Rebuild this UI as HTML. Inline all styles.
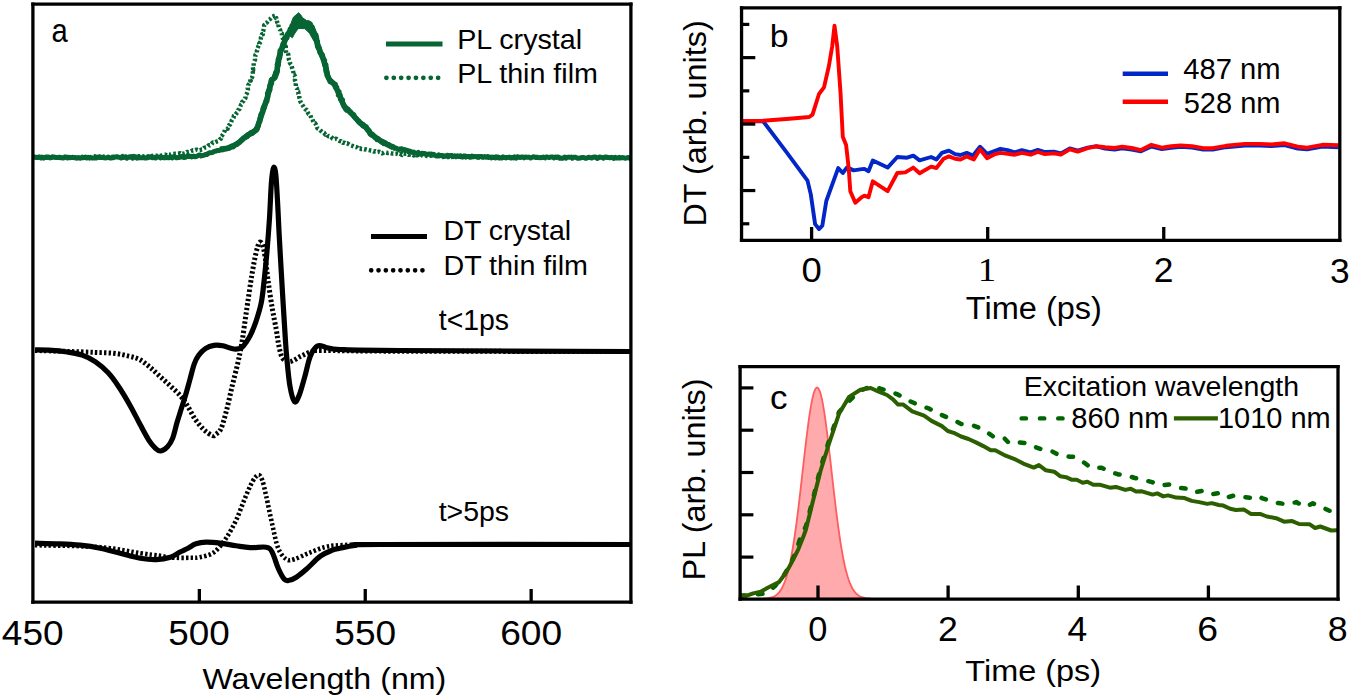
<!DOCTYPE html>
<html><head><meta charset="utf-8"><title>Figure</title>
<style>html,body{margin:0;padding:0;background:#fff;}svg{display:block;}text{font-family:"Liberation Sans",sans-serif;}</style>
</head><body>
<svg width="1350" height="698" viewBox="0 0 1350 698">
<rect width="1350" height="698" fill="#fff"/>
<path d="M32.8,157.4 L34.5,157.4 L36.3,156.7 L37.5,157.7 L39.2,156.9 L41.4,157.2 L42.9,157.2 L44.3,156.7 L45.9,157.7 L47.4,157.5 L49.1,156.6 L50.8,157.3 L52.1,156.5 L54.1,157.1 L55.6,157.7 L57.2,157.7 L58.6,157.5 L60.2,157.7 L62.1,156.5 L63.2,156.7 L65.4,157.0 L66.7,156.8 L68.3,156.9 L69.8,157.2 L71.5,157.6 L73.2,157.6 L74.9,157.7 L76.4,156.5 L78.1,157.6 L79.8,157.1 L81.2,156.6 L82.9,157.1 L84.1,156.3 L86.1,157.6 L87.2,157.3 L89.0,156.4 L90.6,157.3 L92.6,156.3 L94.0,156.2 L95.7,156.6 L97.4,157.5 L98.7,157.5 L100.2,156.2 L102.0,156.2 L103.3,156.7 L105.2,156.3 L106.4,157.3 L108.2,157.4 L110.2,156.6 L111.5,156.8 L113.2,156.9 L114.8,156.9 L116.7,156.7 L117.9,157.0 L119.4,156.4 L121.5,156.7 L122.8,156.0 L124.3,156.8 L125.6,156.8 L127.7,156.0 L129.3,156.6 L130.9,156.4 L132.5,157.0 L133.6,156.0 L135.7,157.3 L137.0,156.5 L138.8,156.3 L140.3,156.3 L141.9,156.7 L143.4,156.4 L145.4,155.9 L146.8,156.9 L148.3,156.1 L150.2,156.1 L151.4,156.2 L153.5,155.6 L154.9,155.8 L156.9,155.8 L158.6,155.2 L159.9,155.7 L161.9,155.3 L163.1,154.7 L165.0,154.6 L166.9,155.4 L168.1,154.4 L170.2,154.8 L171.9,154.2 L173.1,153.9 L175.2,153.8 L176.6,153.8 L178.3,153.6 L180.3,153.1 L181.3,153.9 L183.6,153.7 L184.9,153.3 L186.9,151.9 L188.4,152.5 L189.9,151.7 L191.3,151.1 L192.9,150.3 L194.8,150.3 L196.6,149.6 L198.3,150.3 L200.0,150.3 L201.6,149.4 L202.5,149.4 L204.1,147.8 L205.9,147.3 L207.1,147.1 L208.7,145.3 L209.9,145.3 L211.5,144.3 L212.8,142.5 L214.4,142.6 L216.0,141.8 L218.5,141.0 L220.3,138.9 L221.0,138.8 L221.3,136.3 L222.4,135.2 L223.4,133.6 L224.6,131.2 L224.8,129.9 L225.9,128.5 L227.7,128.7 L227.9,126.8 L229.1,125.1 L230.2,124.5 L231.2,122.4 L231.6,120.8 L232.3,119.7 L233.6,117.8 L233.8,115.8 L235.1,115.2 L236.6,113.1 L237.6,112.1 L238.3,110.0 L239.4,109.1 L240.1,107.4 L241.0,104.7 L241.9,103.9 L242.2,101.8 L243.4,101.3 L244.8,98.6 L245.5,98.0 L245.5,95.7 L245.8,95.0 L246.9,93.5 L247.6,91.4 L248.0,89.6 L247.7,88.0 L248.1,85.3 L249.5,83.4 L249.2,81.9 L250.7,80.6 L250.2,80.6 L250.8,79.1 L252.0,77.5 L252.8,75.4 L252.8,72.5 L252.9,72.0 L253.0,69.5 L253.2,69.8 L252.7,66.7 L253.7,66.1 L253.7,62.9 L254.0,62.2 L255.0,59.9 L254.9,58.2 L255.3,56.5 L255.3,55.0 L256.8,53.1 L256.9,50.7 L257.3,50.4 L257.7,48.1 L258.2,46.7 L259.4,43.9 L259.2,43.6 L260.9,41.3 L260.8,40.2 L260.9,37.5 L261.4,36.6 L262.0,34.2 L262.9,34.3 L262.9,32.0 L263.4,30.6 L264.1,27.5 L264.1,25.3 L265.2,24.7 L265.7,23.2 L266.7,22.7 L267.4,21.8 L268.9,19.7 L270.1,19.1 L271.6,17.3 L272.4,16.5 L275.7,15.3 L276.1,18.3 L276.4,18.3 L276.7,21.1 L277.8,23.4 L278.6,23.4 L278.4,25.2 L278.9,28.0 L280.3,30.2 L280.2,31.8 L280.8,32.5 L281.9,33.4 L281.7,36.9 L282.5,37.5 L283.4,40.0 L283.3,40.9 L284.3,43.1 L284.5,45.1 L285.8,46.5 L285.8,47.7 L285.9,50.8 L286.3,53.1 L287.8,52.9 L288.5,55.3 L288.8,57.9 L288.8,59.4 L289.8,61.5 L289.9,63.1 L291.3,64.6 L291.4,65.0 L291.9,67.2 L292.6,69.7 L292.9,70.3 L293.5,73.1 L293.4,75.4 L294.5,75.3 L295.3,77.0 L294.9,80.1 L295.5,81.5 L295.9,82.9 L295.8,84.0 L295.8,87.0 L296.9,88.3 L297.2,89.6 L297.1,91.2 L298.4,91.9 L298.4,93.9 L299.3,95.7 L299.3,97.3 L300.0,99.7 L300.3,101.4 L300.5,101.6 L301.0,102.8 L302.8,105.5 L303.0,105.7 L304.3,108.2 L305.6,109.6 L306.4,109.6 L307.1,111.0 L308.2,113.4 L308.8,114.2 L310.4,115.3 L311.4,118.6 L312.5,119.1 L313.1,121.1 L314.1,123.2 L315.1,123.2 L316.2,124.9 L316.9,126.7 L317.3,128.2 L318.9,129.0 L320.0,129.9 L321.0,131.0 L322.2,132.0 L324.1,132.8 L325.3,134.7 L326.9,134.3 L328.2,136.1 L329.1,136.3 L330.9,136.5 L332.8,138.7 L334.2,139.3 L336.2,138.7 L337.9,140.2 L339.6,141.1 L341.1,141.1 L342.8,142.8 L344.5,142.7 L346.0,143.5 L347.1,143.3 L348.6,144.1 L350.2,145.2 L352.2,145.8 L353.6,146.5 L355.1,146.8 L357.0,147.3 L358.1,148.6 L360.1,148.3 L361.4,149.1 L363.2,149.0 L364.3,149.3 L366.5,149.5 L367.8,149.9 L369.2,150.2 L370.9,150.5 L372.2,150.7 L373.9,151.6 L375.4,151.2 L377.3,152.1 L379.2,151.7 L380.7,152.4 L382.2,153.4 L384.1,152.3 L386.0,152.6 L387.9,153.0 L389.2,152.8 L391.4,153.3 L393.2,153.7 L395.1,153.6 L396.3,153.6 L398.5,154.3 L399.9,153.6 L401.9,154.9 L403.6,153.6 L405.0,153.8 L406.8,153.8 L408.5,154.8 L410.7,154.3 L412.4,154.8 L413.9,155.5 L415.7,154.3 L416.9,155.3 L419.0,154.6 L420.1,155.8 L421.7,155.2 L423.5,155.8 L425.5,155.1 L427.0,156.0 L428.7,155.9 L430.4,155.7 L431.7,155.6 L433.6,156.1 L434.9,155.7 L436.9,156.4 L438.5,156.2 L440.0,156.0 L441.8,155.8 L443.2,156.9 L445.0,156.0 L446.3,157.1 L448.2,157.1 L450.0,156.6 L451.6,157.0 L452.9,156.5 L454.3,156.6 L456.5,156.2 L457.9,156.2 L459.2,157.0 L460.9,156.1 L462.5,157.0 L464.4,156.1 L465.8,157.5 L467.4,157.0 L469.1,157.3 L470.9,157.3 L472.5,156.5 L473.8,156.4 L475.9,156.4 L477.0,157.7 L478.7,157.6 L480.3,157.0 L482.0,157.5 L483.9,157.3 L485.6,157.6 L486.9,157.3 L488.6,156.6 L490.5,157.3 L492.1,156.8 L493.5,157.2 L495.3,156.6 L496.6,157.2 L498.1,157.4 L500.2,157.2" fill="none" stroke="#066532" stroke-width="4.4" stroke-dasharray="2.6 2.1" stroke-linejoin="round"/>
<path d="M32.9,157.0 L34.4,156.9 L35.7,157.3 L36.6,157.5 L37.9,157.4 L39.3,156.9 L40.9,158.0 L42.0,157.1 L43.6,158.1 L44.9,157.4 L46.5,156.9 L47.8,157.2 L48.6,157.0 L50.0,158.0 L51.2,157.6 L52.9,157.3 L54.1,156.9 L55.1,157.1 L56.9,157.4 L57.9,157.6 L59.3,157.2 L60.9,157.8 L61.8,157.6 L63.3,158.1 L64.8,157.2 L66.3,157.0 L67.2,157.9 L68.3,157.5 L69.6,157.8 L71.4,157.6 L72.8,157.3 L74.0,157.7 L75.2,157.5 L76.7,158.2 L77.8,157.8 L78.8,157.8 L80.6,158.2 L82.0,157.3 L83.0,157.8 L84.1,157.5 L85.5,157.0 L86.7,157.9 L88.1,157.2 L89.6,158.1 L90.7,157.5 L92.4,158.1 L93.9,158.1 L94.8,157.5 L96.2,158.1 L97.9,157.1 L98.7,157.2 L100.0,157.6 L101.6,157.2 L102.5,157.5 L104.1,157.7 L105.8,157.9 L106.8,157.7 L108.3,157.0 L109.7,158.0 L111.0,158.0 L112.0,157.4 L113.1,157.8 L114.4,157.0 L115.8,157.1 L117.3,157.0 L118.3,157.1 L119.7,157.4 L121.0,158.1 L122.7,157.1 L123.7,157.4 L125.1,157.0 L126.8,158.2 L127.8,157.5 L128.8,157.0 L130.3,157.2 L132.0,157.0 L132.7,158.1 L134.4,157.0 L135.7,156.8 L137.0,158.2 L138.5,157.8 L139.4,157.3 L140.6,157.8 L142.2,157.8 L143.4,157.1 L145.0,158.1 L146.3,157.9 L147.6,157.8 L148.5,157.4 L149.9,156.7 L151.0,157.1 L152.4,157.7 L154.2,157.3 L155.5,158.0 L156.8,157.2 L157.6,157.0 L158.9,156.9 L160.5,157.9 L162.0,157.3 L163.2,157.7 L164.1,157.5 L165.9,157.7 L167.1,157.3 L168.0,157.7 L169.4,157.7 L171.2,157.1 L172.1,157.9 L173.6,156.8 L174.5,156.7 L176.4,157.7 L177.1,157.7 L179.0,157.4 L179.9,157.3 L181.1,156.4 L183.0,157.2 L184.1,157.5 L185.3,157.3 L187.0,156.3 L187.9,156.3 L189.2,156.6 L190.6,156.3 L191.9,156.9 L193.4,156.1 L194.9,156.7 L196.1,156.6 L197.5,155.9 L198.9,155.1 L200.2,155.2 L201.2,156.0 L202.7,155.5 L204.4,155.1 L205.4,154.6 L206.9,154.5 L207.9,153.7 L209.3,152.8 L211.0,152.7 L212.2,152.6 L213.7,151.7 L214.8,151.3 L216.1,151.1 L217.3,150.4 L218.7,150.6 L220.2,150.0 L221.7,148.9 L222.6,149.8 L224.2,148.4 L224.9,148.7 L226.1,148.3 L227.4,148.5 L229.3,148.3 L230.0,147.5 L231.8,146.0 L233.2,146.9 L234.0,146.1 L235.4,144.6 L237.2,144.4 L237.8,142.9 L239.4,142.0 L240.2,141.0 L241.7,139.5 L242.7,139.3 L243.2,138.1 L244.9,137.5 L245.4,137.5 L247.4,136.7 L248.0,134.5 L249.2,134.7 L250.8,132.6 L252.2,133.5 L253.8,131.3 L254.2,131.9 L255.8,130.6 L256.3,128.4 L257.4,127.9 L257.2,127.8 L258.3,126.2 L258.0,125.0 L258.4,123.8 L259.3,121.2 L259.9,121.4 L259.9,118.1 L260.7,117.1 L260.6,115.6 L260.9,114.4 L261.6,113.4 L262.7,112.0 L262.8,110.4 L263.0,108.6 L263.3,107.3 L264.4,107.5 L264.0,106.0 L265.6,103.6 L265.8,103.3 L265.8,103.3 L266.1,101.0 L267.0,101.2 L266.9,99.4 L267.8,97.5 L267.6,95.3 L267.4,93.4 L267.7,94.0 L268.3,90.9 L268.4,91.8 L270.0,89.9 L269.4,87.3 L269.7,86.7 L269.8,85.3 L270.3,85.7 L271.7,83.1 L270.9,83.1 L271.3,79.8 L271.9,79.1 L273.7,78.6 L274.3,77.7 L274.5,75.7 L275.1,74.8 L275.6,72.3 L276.5,71.7 L277.1,71.4 L277.5,70.5 L277.6,69.8 L277.3,66.7 L278.4,64.9 L278.1,65.1 L277.2,64.4 L278.7,62.4 L278.8,61.6 L278.2,59.2 L279.1,58.8 L279.9,57.3 L279.9,56.1 L280.4,54.0 L280.0,50.5 L280.3,50.3 L280.8,50.5 L282.0,48.6 L282.6,47.4 L282.9,44.0 L283.9,45.1 L283.9,43.1 L284.7,40.3 L285.4,39.5 L284.9,38.2 L286.5,36.7 L287.1,37.9 L287.3,34.6 L288.2,34.3 L289.5,32.7 L290.2,29.6 L290.1,29.0 L291.7,28.0 L292.1,25.8 L292.0,25.5 L293.7,25.6 L294.7,23.3 L295.5,22.9 L296.5,20.8 L298.2,20.0 L299.4,21.4 L299.2,20.7 L301.8,23.2 L302.5,21.8 L303.5,24.6 L304.8,24.1 L306.0,24.6 L308.6,24.1 L309.7,26.0 L311.1,27.4 L311.4,28.8 L312.3,27.2 L312.1,30.0 L313.4,30.6 L313.5,32.0 L314.3,34.8 L314.4,35.8 L316.1,35.1 L316.5,38.3 L316.8,38.2 L316.3,39.8 L317.6,41.7 L316.9,42.5 L317.1,42.6 L317.4,46.5 L318.2,48.2 L318.6,47.5 L319.5,48.6 L319.8,52.5 L321.1,53.3 L321.3,55.0 L322.3,55.2 L322.5,54.9 L323.0,57.5 L323.6,59.5 L323.3,58.8 L324.7,60.4 L324.4,62.4 L324.5,64.9 L326.0,64.7 L325.8,66.1 L326.1,67.7 L325.7,68.3 L326.0,72.0 L326.7,71.1 L327.7,74.9 L327.2,73.5 L327.0,74.7 L328.1,76.2 L328.7,78.2 L330.1,81.7 L331.4,81.1 L331.9,82.3 L332.8,82.6 L333.3,83.3 L335.5,84.2 L335.5,87.2 L336.8,87.2 L336.6,88.7 L337.4,90.5 L338.8,93.0 L339.1,91.6 L338.3,95.0 L340.2,95.4 L340.2,95.1 L340.4,99.3 L341.7,100.4 L342.5,99.8 L341.7,100.9 L342.9,103.8 L344.1,105.3 L344.2,106.8 L344.9,107.1 L345.3,108.8 L346.6,110.2 L348.2,109.4 L348.5,110.3 L350.2,112.5 L350.5,111.8 L352.0,114.2 L352.7,114.3 L353.9,114.7 L354.4,116.9 L356.1,118.4 L356.9,118.9 L356.9,119.4 L358.7,121.5 L358.8,120.8 L360.2,123.3 L361.2,123.3 L362.7,125.8 L363.3,124.6 L364.6,126.4 L366.2,126.8 L367.2,129.2 L367.7,129.1 L369.0,130.5 L369.7,131.5 L369.9,133.8 L371.2,135.1 L372.6,134.4 L373.5,135.8 L375.1,137.8 L375.8,137.7 L377.0,139.7 L378.1,138.6 L379.1,139.9 L381.1,141.5 L382.0,142.4 L383.3,141.8 L383.8,143.6 L385.4,142.7 L386.7,144.0 L387.7,144.5 L388.9,144.6 L390.3,145.9 L392.2,146.2 L393.5,147.0 L394.4,148.4 L396.2,148.1 L396.9,148.5 L398.6,149.6 L399.8,149.0 L401.8,148.8 L402.8,150.4 L404.5,149.5 L405.3,149.9 L407.4,150.5 L408.6,151.8 L409.7,151.1 L411.6,152.0 L412.4,152.4 L413.8,152.1 L414.9,153.1 L417.0,153.2 L418.3,152.4 L419.1,153.3 L421.0,154.1 L421.9,153.2 L423.2,153.7 L424.9,153.4 L426.1,154.4 L427.4,154.6 L428.6,154.0 L429.7,154.2 L431.3,154.0 L432.2,155.1 L433.6,154.2 L434.7,155.1 L436.2,155.9 L438.0,156.0 L438.8,154.9 L440.0,155.6 L441.8,155.6 L442.7,155.6 L444.3,156.0 L445.7,156.3 L447.0,155.3 L448.4,155.6 L449.5,155.7 L450.9,155.5 L451.9,155.6 L453.1,156.6 L454.7,155.8 L455.9,156.8 L457.3,155.8 L458.8,156.4 L460.3,155.7 L461.2,156.8 L462.8,156.9 L463.5,156.1 L464.9,156.0 L466.8,156.6 L468.1,156.4 L469.3,156.5 L470.2,157.0 L472.0,156.1 L473.1,156.9 L474.1,156.6 L475.4,156.4 L476.7,157.0 L478.3,156.5 L479.2,156.7 L481.0,156.5 L482.0,156.6 L483.7,157.1 L484.5,156.6 L486.0,157.2 L487.5,156.6 L488.5,157.5 L489.9,157.0 L491.2,157.9 L492.5,157.4 L493.8,157.2 L495.5,158.0 L496.4,156.9 L498.0,156.9 L498.8,157.9 L500.4,157.8 L501.7,157.9 L503.0,156.9 L504.0,157.4 L505.8,157.9 L506.7,157.5 L508.2,157.4 L509.3,157.1 L510.9,158.0 L511.9,157.4 L513.7,158.0 L514.6,156.9 L516.4,158.1 L517.4,156.8 L519.0,157.2 L520.3,157.6 L521.6,156.9 L522.8,157.0 L523.9,157.9 L525.5,157.0 L526.4,157.3 L527.9,157.3 L528.9,157.1 L530.6,158.0 L531.5,157.5 L533.3,156.8 L534.6,156.9 L535.8,157.5 L537.1,157.2 L538.2,157.6 L539.6,157.7 L540.9,157.4 L541.9,157.7 L543.5,157.1 L545.0,157.9 L546.1,157.1 L547.4,157.0 L548.5,157.4 L549.8,157.4 L551.4,156.9 L552.8,156.9 L554.1,157.9 L555.3,156.9 L556.6,157.4 L558.2,157.0 L559.4,158.2 L560.7,158.0 L561.6,158.2 L563.1,158.2 L564.7,157.1 L565.9,158.2 L566.7,157.4 L568.5,157.1 L569.9,157.3 L571.2,157.1 L572.3,158.2 L573.4,157.3 L574.9,157.3 L575.8,157.2 L577.2,158.2 L578.9,158.2 L579.9,158.0 L581.1,157.7 L582.8,157.4 L584.3,157.7 L585.4,158.2 L586.3,158.3 L588.0,157.5 L589.4,157.3 L590.9,157.8 L591.7,158.0 L593.1,157.2 L594.6,157.0 L596.0,157.3 L597.2,158.4 L598.4,157.9 L599.5,157.0 L600.6,157.2 L602.4,157.6 L603.6,158.3 L604.6,157.3 L606.3,157.0 L607.2,157.5 L608.5,157.5 L609.9,157.8 L611.5,157.3 L612.8,157.7 L613.8,158.4 L615.2,157.3 L616.4,157.9 L618.2,158.1 L619.2,157.4 L620.2,158.0 L621.9,157.6 L623.3,157.7 L624.8,158.1 L625.6,158.3 L626.8,157.8 L628.3,157.4 L629.4,158.2 L630.7,157.9" fill="none" stroke="#066532" stroke-width="5" stroke-linejoin="round"/>
<path d="M220.0,149.4 L226.5,148.7 L232.9,146.1 L239.4,142.3 L245.8,136.5 L252.3,132.6 L256.8,129.4 L259.4,121.6 L261.9,113.9 L264.5,106.1 L267.1,98.4 L269.7,88.1 L271.6,80.3 L274.8,77.7 L276.8,72.6 L278.1,62.0 L280.4,52.0 L283.9,43.0 L287.3,35.0 L290.0,31.0 L293.4,25.0 L298.6,20.0 L302.6,22.5 L306.6,24.5 L311.8,27.5 L315.2,35.0 L317.5,44.0 L320.0,51.0 L323.2,59.0 L326.0,68.0 L327.5,76.0 L330.0,80.5 L334.0,84.0 L337.0,89.5 L340.6,97.9 L344.0,106.0 L352.0,114.0 L359.0,122.0 L366.0,127.5 L370.2,133.2 L377.3,138.8 L385.2,143.5 L393.1,147.5" fill="none" stroke="#066532" stroke-width="5.6" stroke-linejoin="round"/>
<path d="M290.0,29.0 L291.5,22.0 L293.4,17.2 L296.0,15.0 L298.6,12.8 L300.5,14.5 L302.6,17.8 L306.6,20.6 L309.0,20.8 L311.8,22.3 L315.2,29.8 L314.1,41.3 L311.0,36.0 L309.5,33.2 L304.9,28.7 L300.0,28.5 L298.0,28.7 L295.0,33.0 L292.3,37.8 L290.0,36.0 Z" fill="#066532" stroke="#066532" stroke-width="1" stroke-linejoin="round"/>
<path d="M35.00,350.50 C40.38,350.65 57.27,351.08 67.30,351.40 C77.33,351.72 87.45,352.08 95.20,352.40 C102.95,352.72 108.22,352.68 113.80,353.30 C119.38,353.92 124.33,355.02 128.70,356.10 C133.07,357.18 136.40,357.90 140.00,359.80 C143.60,361.70 146.87,364.63 150.30,367.50 C153.73,370.37 157.15,373.83 160.60,377.00 C164.05,380.17 167.55,383.20 171.00,386.50 C174.45,389.80 178.43,393.37 181.30,396.80 C184.17,400.23 185.90,403.38 188.20,407.10 C190.50,410.82 192.52,415.37 195.10,419.10 C197.68,422.83 200.83,426.77 203.70,429.50 C206.57,432.23 210.25,434.75 212.30,435.50 C214.35,436.25 214.55,435.13 216.00,434.00 C217.45,432.87 219.23,432.68 221.00,428.70 C222.77,424.72 224.73,417.23 226.60,410.10 C228.47,402.97 230.35,393.67 232.20,385.90 C234.05,378.13 236.15,370.32 237.70,363.50 C239.25,356.68 240.37,351.42 241.50,345.00 C242.63,338.58 243.47,332.07 244.50,325.00 C245.53,317.93 246.48,310.88 247.70,302.60 C248.92,294.32 250.43,283.48 251.80,275.30 C253.17,267.12 254.63,258.95 255.90,253.50 C257.17,248.05 258.27,243.95 259.40,242.60 C260.53,241.25 261.70,242.67 262.70,245.40 C263.70,248.13 264.50,253.10 265.40,259.00 C266.30,264.90 266.97,272.63 268.10,280.80 C269.23,288.97 270.83,299.83 272.20,308.00 C273.57,316.17 275.22,323.65 276.30,329.80 C277.38,335.95 277.68,340.22 278.70,344.90 C279.72,349.58 280.53,355.10 282.40,357.90 C284.27,360.70 286.78,362.00 289.90,361.70 C293.02,361.40 297.38,357.82 301.10,356.10 C304.82,354.38 308.78,352.33 312.20,351.40 C315.62,350.47 306.97,350.53 321.60,350.50 C336.23,350.47 348.43,351.03 400.00,351.20 C451.57,351.37 592.50,351.45 631.00,351.50" fill="none" stroke="#000" stroke-width="5" stroke-dasharray="2.4 2.2"/>
<path d="M35.00,349.80 C37.27,349.85 43.22,349.73 48.60,350.10 C53.98,350.47 61.70,351.17 67.30,352.00 C72.90,352.83 77.55,353.48 82.20,355.10 C86.85,356.72 90.87,358.75 95.20,361.70 C99.53,364.65 104.17,368.47 108.20,372.80 C112.23,377.13 115.67,382.10 119.40,387.70 C123.13,393.30 127.17,400.30 130.60,406.40 C134.03,412.50 137.00,418.73 140.00,424.30 C143.00,429.87 146.02,435.78 148.60,439.80 C151.18,443.82 153.50,446.53 155.50,448.40 C157.50,450.27 158.60,451.28 160.60,451.00 C162.60,450.72 165.48,448.85 167.50,446.70 C169.52,444.55 171.12,442.12 172.70,438.10 C174.28,434.08 175.57,427.48 177.00,422.60 C178.43,417.72 179.87,413.38 181.30,408.80 C182.73,404.22 184.17,399.97 185.60,395.10 C187.03,390.23 188.47,384.77 189.90,379.60 C191.33,374.43 192.77,368.12 194.20,364.10 C195.63,360.08 196.63,358.08 198.50,355.50 C200.37,352.92 202.82,350.28 205.40,348.60 C207.98,346.92 211.10,345.87 214.00,345.40 C216.90,344.93 219.47,345.20 222.80,345.80 C226.13,346.40 230.88,348.68 234.00,349.00 C237.12,349.32 239.45,348.87 241.50,347.70 C243.55,346.53 244.80,344.12 246.30,342.00 C247.80,339.88 248.90,338.38 250.50,335.00 C252.10,331.62 254.10,327.10 255.90,321.70 C257.70,316.30 259.93,309.42 261.30,302.60 C262.67,295.78 263.18,288.98 264.10,280.80 C265.02,272.62 265.90,263.95 266.80,253.50 C267.70,243.05 268.73,229.90 269.50,218.10 C270.27,206.30 270.72,191.10 271.40,182.70 C272.08,174.30 272.87,169.07 273.60,167.70 C274.33,166.33 275.12,168.37 275.80,174.50 C276.48,180.63 277.17,194.97 277.70,204.50 C278.23,214.03 278.45,221.25 279.00,231.70 C279.55,242.15 280.32,255.38 281.00,267.20 C281.68,279.02 282.38,290.80 283.10,302.60 C283.82,314.40 284.68,328.77 285.30,338.00 C285.92,347.23 286.03,350.02 286.80,358.00 C287.57,365.98 288.62,378.62 289.90,385.90 C291.18,393.18 292.95,400.15 294.50,401.70 C296.05,403.25 297.48,399.38 299.20,395.20 C300.92,391.02 302.93,383.12 304.80,376.60 C306.67,370.08 308.23,361.23 310.40,356.10 C312.57,350.97 315.02,347.20 317.80,345.80 C320.58,344.40 323.40,347.08 327.10,347.70 C330.80,348.32 327.85,349.03 340.00,349.50 C352.15,349.97 351.50,350.17 400.00,350.50 C448.50,350.83 592.50,351.33 631.00,351.50" fill="none" stroke="#000" stroke-width="5.2" stroke-linejoin="round"/>
<path d="M35.00,545.20 C42.52,545.37 67.57,545.70 80.10,546.20 C92.63,546.70 100.17,547.03 110.20,548.20 C120.23,549.37 131.95,551.93 140.30,553.20 C148.65,554.47 155.28,555.07 160.30,555.80 C165.32,556.53 165.45,557.27 170.40,557.60 C175.35,557.93 185.07,557.87 190.00,557.80 C194.93,557.73 195.98,558.13 200.00,557.20 C204.02,556.27 209.75,555.37 214.10,552.20 C218.45,549.03 222.43,543.53 226.10,538.20 C229.77,532.87 233.08,526.55 236.10,520.20 C239.12,513.85 241.52,506.45 244.20,500.10 C246.88,493.75 249.87,486.28 252.20,482.10 C254.53,477.92 256.53,475.35 258.20,475.00 C259.87,474.65 260.87,476.48 262.20,480.00 C263.53,483.52 264.53,488.73 266.20,496.10 C267.87,503.47 270.20,515.52 272.20,524.20 C274.20,532.88 275.85,542.37 278.20,548.20 C280.55,554.03 283.62,557.37 286.30,559.20 C288.98,561.03 290.63,560.20 294.30,559.20 C297.97,558.20 303.28,555.20 308.30,553.20 C313.32,551.20 319.12,548.53 324.40,547.20 C329.68,545.87 332.40,545.65 340.00,545.20 C347.60,544.75 356.67,544.62 370.00,544.50 C383.33,544.38 411.67,544.50 420.00,544.50" fill="none" stroke="#000" stroke-width="4.6" stroke-dasharray="2.4 2.2"/>
<path d="M35.00,543.20 C39.18,543.30 52.58,543.47 60.10,543.80 C67.62,544.13 73.42,544.47 80.10,545.20 C86.78,545.93 93.52,546.87 100.20,548.20 C106.88,549.53 113.52,551.53 120.20,553.20 C126.88,554.87 134.28,557.13 140.30,558.20 C146.32,559.27 151.28,559.77 156.30,559.60 C161.32,559.43 166.45,558.47 170.40,557.20 C174.35,555.93 177.07,553.50 180.00,552.00 C182.93,550.50 185.33,549.57 188.00,548.20 C190.67,546.83 192.98,544.80 196.00,543.80 C199.02,542.80 202.08,542.30 206.10,542.20 C210.12,542.10 215.10,542.60 220.10,543.20 C225.10,543.80 231.08,545.07 236.10,545.80 C241.12,546.53 245.18,547.37 250.20,547.60 C255.22,547.83 262.53,546.43 266.20,547.20 C269.87,547.97 270.20,548.68 272.20,552.20 C274.20,555.72 276.18,563.78 278.20,568.30 C280.22,572.82 282.45,577.30 284.30,579.30 C286.15,581.30 287.30,580.63 289.30,580.30 C291.30,579.97 293.47,579.13 296.30,577.30 C299.13,575.47 302.28,572.82 306.30,569.30 C310.32,565.78 316.05,559.38 320.40,556.20 C324.75,553.02 329.13,551.53 332.40,550.20 C335.67,548.87 336.23,548.98 340.00,548.20 C343.77,547.42 348.33,546.12 355.00,545.50 C361.67,544.88 334.00,544.67 380.00,544.50 C426.00,544.33 589.17,544.50 631.00,544.50" fill="none" stroke="#000" stroke-width="5.2" stroke-linejoin="round"/>
<line x1="31.25" y1="4.1" x2="632.55" y2="4.1" stroke="#000" stroke-width="3.3"/>
<line x1="31.25" y1="602.2" x2="632.55" y2="602.2" stroke="#000" stroke-width="3.3"/>
<line x1="32.9" y1="2.4499999999999997" x2="32.9" y2="603.85" stroke="#000" stroke-width="3.3"/>
<line x1="630.9" y1="2.4499999999999997" x2="630.9" y2="603.85" stroke="#000" stroke-width="3.3"/>
<line x1="199.35" y1="589" x2="199.35" y2="602" stroke="#000" stroke-width="3.3"/>
<line x1="365.25" y1="589" x2="365.25" y2="602" stroke="#000" stroke-width="3.3"/>
<line x1="531.15" y1="589" x2="531.15" y2="602" stroke="#000" stroke-width="3.3"/>
<line x1="386" y1="43.9" x2="442.5" y2="43.9" stroke="#066532" stroke-width="5"/>
<line x1="386.4" y1="77.8" x2="439" y2="77.8" stroke="#066532" stroke-width="4.8" stroke-linecap="round" stroke-dasharray="0 7.39"/>
<line x1="371" y1="236.4" x2="427" y2="236.4" stroke="#000" stroke-width="5"/>
<line x1="371.2" y1="270.3" x2="423" y2="270.3" stroke="#000" stroke-width="4.7" stroke-linecap="round" stroke-dasharray="0 7.32"/>
<path d="M742.0,121.3 L763.1,121.3 L786.1,151.6 L807.5,180.6 L810.8,194.4 L815.1,224.1 L819.0,229.0 L822.3,225.7 L826.3,201.0 L832.2,184.6 L838.2,168.1 L842.8,173.0 L847.0,167.4 L853.6,170.4 L861.9,169.1 L864.4,168.9 L868.5,171.2 L872.8,160.5 L887.6,167.6 L897.3,157.0 L907.1,157.7 L913.3,155.6 L919.6,160.4 L931.1,157.0 L936.4,159.5 L941.8,152.9 L948.9,150.6 L955.1,154.1 L960.4,155.0 L966.7,152.9 L972.9,155.6 L980.0,146.7 L987.1,153.8 L1000.4,148.8 L1007.6,150.2 L1014.7,152.4 L1021.8,150.2 L1030.7,152.4 L1037.8,149.9 L1044.9,152.0 L1053.8,151.6 L1060.9,153.4 L1069.8,148.4 L1077.8,150.6 L1087.6,147.6 L1096.4,146.3 L1105.1,148.5 L1114.6,149.5 L1122.1,148.3 L1131.6,149.5 L1141.0,151.3 L1151.4,146.5 L1161.8,149.0 L1171.2,147.8 L1180.7,146.8 L1192.0,147.5 L1203.3,149.5 L1212.8,149.5 L1226.0,147.2 L1244.9,145.5 L1260.0,145.5 L1271.3,146.0 L1284.6,145.0 L1297.8,148.5 L1307.2,149.3 L1322.3,146.5 L1338.4,147.2" fill="none" stroke="#0326c6" stroke-width="3.9" stroke-linejoin="round"/>
<path d="M742.0,121.3 L763.1,120.7 L789.4,118.7 L809.2,117.0 L812.5,114.7 L819.0,94.0 L824.0,87.4 L828.9,66.0 L832.2,46.2 L834.5,25.8 L837.2,46.2 L840.5,92.3 L842.8,136.8 L846.1,145.0 L848.7,168.1 L850.3,191.2 L855.3,202.7 L861.9,197.1 L864.4,195.6 L868.5,197.3 L872.8,181.3 L887.6,191.1 L897.3,173.0 L905.3,172.4 L913.3,167.6 L919.6,173.3 L931.1,166.6 L936.4,168.0 L943.6,158.8 L948.9,156.4 L955.1,158.8 L960.4,159.5 L966.7,156.4 L973.8,159.5 L980.0,149.3 L987.1,158.2 L995.1,154.1 L1000.4,152.9 L1014.7,154.7 L1021.8,152.9 L1030.7,154.7 L1037.8,152.0 L1044.9,154.1 L1053.8,153.4 L1060.9,154.7 L1069.8,149.3 L1077.8,151.6 L1087.6,148.1 L1096.4,146.3 L1105.1,147.3 L1114.6,148.0 L1122.1,146.7 L1131.6,148.0 L1141.0,150.1 L1151.4,144.8 L1161.8,147.7 L1171.2,146.3 L1180.7,145.4 L1192.0,146.2 L1203.3,148.2 L1212.8,148.2 L1226.0,145.8 L1244.9,143.9 L1260.0,143.9 L1271.3,144.5 L1284.6,143.3 L1297.8,146.7 L1307.2,147.7 L1322.3,144.8 L1338.4,145.2" fill="none" stroke="#ff0000" stroke-width="3.9" stroke-linejoin="round"/>
<line x1="739.9" y1="7.8" x2="1341.45" y2="7.8" stroke="#000" stroke-width="3.3"/>
<line x1="739.9" y1="240.4" x2="1341.45" y2="240.4" stroke="#000" stroke-width="3.3"/>
<line x1="741.55" y1="6.15" x2="741.55" y2="242.05" stroke="#000" stroke-width="3.3"/>
<line x1="1339.8" y1="6.15" x2="1339.8" y2="242.05" stroke="#000" stroke-width="3.3"/>
<line x1="741.55" y1="24.4" x2="749.3" y2="24.4" stroke="#000" stroke-width="3.2"/>
<line x1="741.55" y1="57.63" x2="755.3" y2="57.63" stroke="#000" stroke-width="3.2"/>
<line x1="741.55" y1="90.86" x2="749.3" y2="90.86" stroke="#000" stroke-width="3.2"/>
<line x1="741.55" y1="124.09" x2="755.3" y2="124.09" stroke="#000" stroke-width="3.2"/>
<line x1="741.55" y1="157.32" x2="749.3" y2="157.32" stroke="#000" stroke-width="3.2"/>
<line x1="741.55" y1="190.55" x2="755.3" y2="190.55" stroke="#000" stroke-width="3.2"/>
<line x1="741.55" y1="223.78" x2="749.3" y2="223.78" stroke="#000" stroke-width="3.2"/>
<line x1="811.6" y1="227" x2="811.6" y2="240" stroke="#000" stroke-width="3.3"/>
<line x1="987.7" y1="227" x2="987.7" y2="240" stroke="#000" stroke-width="3.3"/>
<line x1="1163.75" y1="227" x2="1163.75" y2="240" stroke="#000" stroke-width="3.3"/>
<line x1="1122.7" y1="73.8" x2="1168" y2="73.8" stroke="#0326c6" stroke-width="4.6"/>
<line x1="1122.7" y1="101.7" x2="1168" y2="101.7" stroke="#ff0000" stroke-width="4.6"/>
<path d="M763.1,598.6 L764.0,598.6 L764.9,598.5 L765.8,598.4 L766.7,598.3 L767.6,598.2 L768.5,598.1 L769.4,597.9 L770.3,597.7 L771.2,597.5 L772.1,597.2 L773.0,596.9 L773.9,596.5 L774.8,596.0 L775.7,595.4 L776.6,594.8 L777.5,594.0 L778.4,593.1 L779.3,592.1 L780.2,590.9 L781.1,589.5 L782.0,588.0 L782.9,586.2 L783.8,584.2 L784.7,582.0 L785.6,579.5 L786.5,576.7 L787.4,573.6 L788.3,570.2 L789.2,566.5 L790.1,562.4 L791.0,557.9 L791.9,553.1 L792.8,547.9 L793.7,542.4 L794.6,536.5 L795.5,530.2 L796.4,523.6 L797.3,516.7 L798.2,509.5 L799.1,502.1 L800.0,494.4 L800.9,486.6 L801.8,478.6 L802.7,470.6 L803.6,462.6 L804.5,454.7 L805.4,446.9 L806.3,439.3 L807.2,432.0 L808.1,425.0 L809.0,418.4 L809.9,412.3 L810.8,406.8 L811.7,401.8 L812.6,397.6 L813.5,394.0 L814.4,391.2 L815.3,389.1 L816.2,387.9 L817.1,387.5 L818.0,387.9 L818.9,389.1 L819.8,391.2 L820.7,394.0 L821.6,397.6 L822.5,401.8 L823.4,406.8 L824.3,412.3 L825.2,418.4 L826.1,425.0 L827.0,432.0 L827.9,439.3 L828.8,446.9 L829.7,454.7 L830.6,462.6 L831.5,470.6 L832.4,478.6 L833.3,486.6 L834.2,494.4 L835.1,502.1 L836.0,509.5 L836.9,516.7 L837.8,523.6 L838.7,530.2 L839.6,536.5 L840.5,542.4 L841.4,547.9 L842.3,553.1 L843.2,557.9 L844.1,562.4 L845.0,566.5 L845.9,570.2 L846.8,573.6 L847.7,576.7 L848.6,579.5 L849.5,582.0 L850.4,584.2 L851.3,586.2 L852.2,588.0 L853.1,589.5 L854.0,590.9 L854.9,592.1 L855.8,593.1 L856.7,594.0 L857.6,594.8 L858.5,595.4 L859.4,596.0 L860.3,596.5 L861.2,596.9 L862.1,597.2 L863.0,597.5 L863.9,597.7 L864.8,597.9 L865.7,598.1 L866.6,598.2 L867.5,598.3 L868.4,598.4 L869.3,598.5 L870.2,598.6 L871.1,598.6 Z" fill="#ffaaad" stroke="#ff5c5e" stroke-width="1.8"/>
<path d="M741.0,596.0 L750.0,595.0 L757.5,594.4 L766.0,593.4 L775.0,586.0 L783.0,577.0 L790.0,565.0 L796.0,552.0 L800.5,537.0 L806.0,526.0 L813.7,496.0 L820.5,468.0 L828.9,441.0 L839.0,412.0 L850.0,400.2 L858.9,391.3 L867.8,387.6 L879.6,388.3 L891.5,392.0 L897.4,394.3 L909.3,400.9 L921.1,406.1 L928.5,408.3 L938.9,413.8 L953.7,420.2 L961.1,423.9 L973.0,425.4 L978.9,427.6 L987.8,432.8 L993.7,436.9 L1004.1,438.0 L1009.3,443.4 L1018.9,442.4 L1026.3,443.1 L1036.7,447.6 L1042.4,449.6 L1051.9,451.3 L1059.6,455.5 L1069.6,456.7 L1074.4,456.7 L1077.3,458.4 L1085.0,463.2 L1091.0,467.9 L1101.6,467.7 L1108.7,471.2 L1118.2,474.4 L1125.9,475.0 L1134.8,478.0 L1143.1,479.8 L1152.0,482.1 L1159.7,485.5 L1169.2,484.5 L1176.9,487.5 L1186.4,488.7 L1193.4,492.4 L1203.8,490.7 L1210.7,494.3 L1219.9,493.0 L1226.7,497.6 L1235.9,495.0 L1244.0,497.0 L1253.7,498.1 L1258.9,496.2 L1261.8,498.1 L1270.4,500.8 L1278.4,503.1 L1288.2,504.4 L1296.2,502.1 L1305.4,507.0 L1312.8,503.3 L1322.0,507.3 L1329.5,510.8 L1337.0,512.5" fill="none" stroke="#006400" stroke-width="4.5" stroke-dasharray="4.5 12.6" stroke-linecap="round" stroke-linejoin="round"/>
<path d="M740.3,595.0 L746.7,595.7 L753.2,593.4 L760.7,591.8 L768.2,587.5 L773.6,584.8 L779.0,582.1 L783.3,576.2 L788.6,568.1 L792.9,560.1 L798.3,549.3 L802.6,538.6 L805.8,530.0 L813.7,497.9 L820.5,471.0 L828.9,444.0 L839.0,413.8 L849.1,396.9 L860.4,389.8 L870.7,388.0 L878.1,391.3 L887.0,395.0 L893.0,399.4 L898.1,404.6 L903.3,404.6 L912.2,411.3 L924.1,415.7 L931.5,420.9 L941.9,426.1 L947.8,431.0 L953.7,432.8 L961.1,436.5 L968.5,439.0 L975.9,442.4 L983.3,446.1 L990.7,450.3 L995.2,450.3 L1005.6,455.7 L1015.9,459.7 L1023.3,463.6 L1033.7,467.6 L1038.9,465.1 L1045.9,470.3 L1054.2,471.7 L1060.1,476.2 L1066.1,477.2 L1072.0,479.8 L1076.7,479.8 L1082.7,482.7 L1087.4,481.8 L1093.3,484.8 L1100.4,484.8 L1109.9,487.7 L1115.9,486.9 L1125.3,489.9 L1130.7,488.7 L1136.0,491.6 L1141.9,491.3 L1152.6,494.6 L1157.3,493.4 L1163.3,496.4 L1168.0,495.4 L1176.3,497.6 L1184.6,498.1 L1191.7,500.9 L1199.2,502.1 L1207.2,503.9 L1211.8,503.1 L1218.7,505.0 L1223.3,505.6 L1230.2,508.8 L1235.9,510.0 L1244.0,509.6 L1250.8,513.9 L1260.0,513.9 L1266.9,516.5 L1276.1,518.2 L1284.1,521.7 L1292.2,521.1 L1299.1,524.0 L1309.4,524.2 L1315.1,528.0 L1320.3,526.5 L1331.2,530.5 L1337.0,530.3" fill="none" stroke="#2c5f00" stroke-width="4" stroke-linejoin="round"/>
<line x1="738.45" y1="366.7" x2="1339.65" y2="366.7" stroke="#000" stroke-width="3.3"/>
<line x1="738.45" y1="599.1" x2="1339.65" y2="599.1" stroke="#000" stroke-width="3.3"/>
<line x1="740.1" y1="365.05" x2="740.1" y2="600.75" stroke="#000" stroke-width="3.3"/>
<line x1="1338" y1="365.05" x2="1338" y2="600.75" stroke="#000" stroke-width="3.3"/>
<line x1="740.1" y1="387.9" x2="753.4" y2="387.9" stroke="#000" stroke-width="3.2"/>
<line x1="740.1" y1="430.2" x2="753.4" y2="430.2" stroke="#000" stroke-width="3.2"/>
<line x1="740.1" y1="472.5" x2="753.4" y2="472.5" stroke="#000" stroke-width="3.2"/>
<line x1="740.1" y1="514.8" x2="753.4" y2="514.8" stroke="#000" stroke-width="3.2"/>
<line x1="740.1" y1="557.1" x2="753.4" y2="557.1" stroke="#000" stroke-width="3.2"/>
<line x1="818.0" y1="585.5" x2="818.0" y2="599" stroke="#000" stroke-width="3.3"/>
<line x1="948.1" y1="585.5" x2="948.1" y2="599" stroke="#000" stroke-width="3.3"/>
<line x1="1078.3" y1="585.5" x2="1078.3" y2="599" stroke="#000" stroke-width="3.3"/>
<line x1="1208.4" y1="585.5" x2="1208.4" y2="599" stroke="#000" stroke-width="3.3"/>
<line x1="1021.6" y1="418.4" x2="1066" y2="418.4" stroke="#006400" stroke-width="4.4" stroke-linecap="round" stroke-dasharray="4.4 13.9"/>
<line x1="1173.9" y1="418.4" x2="1217.9" y2="418.4" stroke="#2c5f00" stroke-width="4.2"/>
<text transform="matrix(0.2923,0.0000,0.0000,0.3309,51.4308,42.2691)" font-size="100" fill="#000">a</text>
<text transform="matrix(0.2872,0.0000,0.0000,0.2777,457.2026,48.7691)" font-size="100" fill="#000">PL crystal</text>
<text transform="matrix(0.2868,0.0000,0.0000,0.2797,457.2059,82.5203)" font-size="100" fill="#000">PL thin film</text>
<text transform="matrix(0.2853,0.0000,0.0000,0.2766,443.4180,240.2915)" font-size="100" fill="#000">DT crystal</text>
<text transform="matrix(0.2871,0.0000,0.0000,0.2838,443.4031,274.6162)" font-size="100" fill="#000">DT thin film</text>
<text transform="matrix(0.2843,0.0000,0.0000,0.2956,438.7314,329.6933)" font-size="100" fill="#000">t&lt;1ps</text>
<text transform="matrix(0.2847,0.0000,0.0000,0.2833,438.6306,520.5500)" font-size="100" fill="#000">t&gt;5ps</text>
<text transform="matrix(0.3702,0.0000,0.0000,0.3549,1.8596,644.5451)" font-size="100" fill="#000">450</text>
<text transform="matrix(0.3686,0.0000,0.0000,0.3549,168.3258,644.5451)" font-size="100" fill="#000">500</text>
<text transform="matrix(0.3704,0.0000,0.0000,0.3549,334.3182,644.5451)" font-size="100" fill="#000">550</text>
<text transform="matrix(0.3715,0.0000,0.0000,0.3549,500.1424,644.5451)" font-size="100" fill="#000">600</text>
<text transform="matrix(0.3220,0.0000,0.0000,0.3021,202.3780,688.6553)" font-size="100" fill="#000">Wavelength (nm)</text>
<text transform="matrix(0.3386,0.0000,0.0000,0.3178,769.6295,46.8000)" font-size="100" fill="#000">b</text>
<text transform="matrix(0.2917,0.0000,0.0000,0.3000,1183.2166,79.0000)" font-size="100" fill="#000">487 nm</text>
<text transform="matrix(0.2904,0.0000,0.0000,0.2930,1183.6384,113.1070)" font-size="100" fill="#000">528 nm</text>
<text transform="matrix(0.3646,0.0000,0.0000,0.3507,801.4417,282.4493)" font-size="100" fill="#000">0</text>
<text transform="matrix(0.3686,0.0000,0.0000,0.3364,977.7829,280.8000)" font-size="100" style="font-family:&quot;Liberation Serif&quot;,serif" fill="#000">1</text>
<text transform="matrix(0.3543,0.0000,0.0000,0.3529,1153.8283,282.4000)" font-size="100" fill="#000">2</text>
<text transform="matrix(0.3532,0.0000,0.0000,0.3549,1329.9872,282.5451)" font-size="100" fill="#000">3</text>
<text transform="matrix(0.3251,0.0000,0.0000,0.3128,965.8498,319.1319)" font-size="100" fill="#000">Time (ps)</text>
<text transform="matrix(0.0000,-0.3239,0.3181,0.0000,706.1202,226.5913)" font-size="100" fill="#000">DT (arb. units)</text>
<text transform="matrix(0.3512,0.0000,0.0000,0.3273,770.0953,409.1727)" font-size="100" fill="#000">c</text>
<text transform="matrix(0.2847,0.0000,0.0000,0.2745,1023.7226,395.5362)" font-size="100" fill="#000">Excitation wavelength</text>
<text transform="matrix(0.2913,0.0000,0.0000,0.2958,1071.3347,427.7042)" font-size="100" fill="#000">860 nm</text>
<text transform="matrix(0.2896,0.0000,0.0000,0.2958,1217.9834,427.7042)" font-size="100" fill="#000">1010 nm</text>
<text transform="matrix(0.3438,0.0000,0.0000,0.3479,808.1250,641.2521)" font-size="100" fill="#000">0</text>
<text transform="matrix(0.3565,0.0000,0.0000,0.3514,937.9174,641.2000)" font-size="100" fill="#000">2</text>
<text transform="matrix(0.3549,0.0000,0.0000,0.3485,1067.5902,641.2485)" font-size="100" fill="#000">4</text>
<text transform="matrix(0.3739,0.0000,0.0000,0.3549,1197.3304,641.4451)" font-size="100" fill="#000">6</text>
<text transform="matrix(0.3574,0.0000,0.0000,0.3549,1327.7702,641.4451)" font-size="100" fill="#000">8</text>
<text transform="matrix(0.3244,0.0000,0.0000,0.3032,965.3512,681.1330)" font-size="100" fill="#000">Time (ps)</text>
<text transform="matrix(0.0000,-0.3239,0.3181,0.0000,704.8202,580.5915)" font-size="100" fill="#000">PL (arb. units)</text>
</svg>
</body></html>
